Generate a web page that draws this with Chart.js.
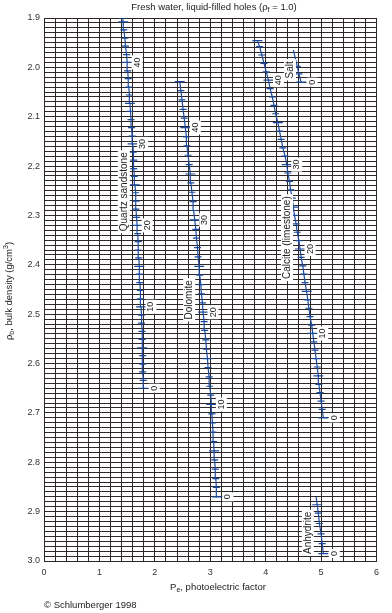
<!DOCTYPE html>
<html>
<head>
<meta charset="utf-8">
<script src="https://cdn.jsdelivr.net/npm/chart.js@4.4.0/dist/chart.umd.min.js"></script>
<style>
  html, body { margin: 0; padding: 0; background: #fff; }
  #wrap { width: 392px; height: 613px; }
</style>
</head>
<body>
<div id="wrap"><canvas id="chart" width="392" height="613"></canvas></div>
<script>
// readings along each matrix line, one entry per porosity unit (0 p.u. first)
const quartzRho = [2.650, 2.634, 2.617, 2.601, 2.584, 2.568, 2.551, 2.535, 2.518, 2.502, 2.485, 2.469, 2.452, 2.436, 2.419, 2.403, 2.386, 2.370, 2.353, 2.337, 2.320, 2.304, 2.287, 2.271, 2.254, 2.238, 2.221, 2.205, 2.188, 2.172, 2.155, 2.139, 2.122, 2.106, 2.089, 2.073, 2.056, 2.040, 2.023, 2.007, 1.990, 1.974, 1.957, 1.941, 1.924, 1.908, 1.900];
const quartzPe = [1.79, 1.79, 1.78, 1.78, 1.78, 1.77, 1.77, 1.77, 1.76, 1.76, 1.75, 1.74, 1.74, 1.73, 1.72, 1.72, 1.71, 1.70, 1.70, 1.69, 1.68, 1.67, 1.66, 1.66, 1.65, 1.64, 1.63, 1.62, 1.62, 1.61, 1.60, 1.59, 1.58, 1.57, 1.56, 1.55, 1.54, 1.53, 1.52, 1.51, 1.50, 1.49, 1.47, 1.46, 1.44, 1.43, 1.42];

const dolomiteRho = [2.870, 2.851, 2.833, 2.814, 2.795, 2.777, 2.758, 2.739, 2.720, 2.702, 2.683, 2.664, 2.646, 2.627, 2.608, 2.590, 2.571, 2.552, 2.533, 2.515, 2.496, 2.477, 2.459, 2.440, 2.421, 2.403, 2.384, 2.365, 2.346, 2.328, 2.309, 2.290, 2.272, 2.253, 2.234, 2.216, 2.197, 2.178, 2.159, 2.141, 2.122, 2.103, 2.085, 2.066, 2.047, 2.029];
const dolomitePe = [3.12, 3.11, 3.10, 3.09, 3.08, 3.07, 3.06, 3.05, 3.04, 3.03, 3.02, 3.01, 2.99, 2.98, 2.96, 2.95, 2.93, 2.92, 2.90, 2.89, 2.87, 2.86, 2.84, 2.83, 2.81, 2.80, 2.78, 2.77, 2.75, 2.74, 2.72, 2.70, 2.69, 2.67, 2.65, 2.64, 2.62, 2.60, 2.58, 2.57, 2.55, 2.53, 2.51, 2.49, 2.47, 2.45];

const calciteRho = [2.710, 2.693, 2.676, 2.659, 2.642, 2.625, 2.607, 2.590, 2.573, 2.556, 2.539, 2.522, 2.505, 2.488, 2.471, 2.454, 2.436, 2.419, 2.402, 2.385, 2.368, 2.351, 2.334, 2.317, 2.300, 2.283, 2.265, 2.248, 2.231, 2.214, 2.197, 2.180, 2.163, 2.146, 2.129, 2.112, 2.094, 2.077, 2.060, 2.043, 2.026, 2.009, 1.992, 1.975, 1.958, 1.946];
const calcitePe = [5.04, 5.02, 5.00, 4.98, 4.96, 4.95, 4.93, 4.91, 4.89, 4.87, 4.85, 4.83, 4.80, 4.78, 4.76, 4.74, 4.71, 4.69, 4.67, 4.64, 4.62, 4.60, 4.57, 4.55, 4.52, 4.50, 4.48, 4.45, 4.43, 4.40, 4.38, 4.35, 4.31, 4.28, 4.25, 4.22, 4.18, 4.15, 4.12, 4.08, 4.05, 4.01, 3.97, 3.93, 3.89, 3.85];

const saltRho = [2.030, 2.013, 1.998, 1.965];
const saltPe = [4.64, 4.60, 4.57, 4.50];

const anhydriteRho = [2.985, 2.965, 2.945, 2.924, 2.903, 2.886, 2.870];
const anhydritePe = [5.04, 5.02, 5.00, 4.97, 4.95, 4.93, 4.91];

const curveNames = ['Quartz sandstone', 'Dolomite', 'Calcite (limestone)', 'Salt', 'Anhydrite'];
const porosityMarks = ['0', '10', '20', '30', '40'];

const BLUE = '#1b4a9c';
const GRID = '#2f2727';
const FONT = "'Liberation Sans', Arial, Helvetica, sans-serif";

function toPoints(pe, rho) {
  return rho.map((r, i) => ({ x: pe[i], y: r }));
}

function makeSet(name, pe, rho, lastIsEnd) {
  return {
    label: name,
    data: toPoints(pe, rho),
    showLine: true,
    borderColor: BLUE,
    borderWidth: 1.2,
    pointStyle: 'line',
    pointBorderColor: BLUE,
    pointBorderWidth: 1.2,
    pointRadius: ctx => {
      if (lastIsEnd && ctx.dataIndex === rho.length - 1) return 0;
      return ctx.dataIndex % 5 === 0 ? 5 : 3.5;
    },
    pointHoverRadius: 0
  };
}

// where the names sit (data units) and which points get a porosity number
const nameAnchors = [
  { pe: 1.44, rho: 2.252 },
  { pe: 2.62, rho: 2.471 },
  { pe: 4.385, rho: 2.345 },
  { pe: 4.44, rho: 2.005 },
  { pe: 4.76, rho: 2.943 }
];
const markedCurves = [5, 5, 5, 1, 1];

function boxedText(ctx, text, x, y, size) {
  ctx.save();
  ctx.translate(x, y);
  ctx.rotate(-Math.PI / 2);
  ctx.font = size + 'px ' + FONT;
  const w = ctx.measureText(text).width;
  ctx.fillStyle = '#fff';
  ctx.fillRect(-w / 2 - 2, -size / 2 - 1, w + 4, size + 2);
  ctx.fillStyle = '#222';
  ctx.textAlign = 'center';
  ctx.textBaseline = 'middle';
  ctx.fillText(text, 0, 0);
  ctx.restore();
}

// draws a run of [text, kind] pieces, kind: 'n' normal, 'sub', 'sup'
function richText(ctx, parts, x, y, size, align) {
  const small = Math.round(size * 0.7);
  let total = 0;
  parts.forEach(p => {
    ctx.font = (p[1] === 'n' ? size : small) + 'px ' + FONT;
    total += ctx.measureText(p[0]).width;
  });
  let cx = align === 'center' ? x - total / 2 : x;
  ctx.textAlign = 'left';
  ctx.textBaseline = 'middle';
  parts.forEach(p => {
    const s = p[1] === 'n' ? size : small;
    ctx.font = s + 'px ' + FONT;
    const dy = p[1] === 'sub' ? size * 0.3 : (p[1] === 'sup' ? -size * 0.35 : 0);
    ctx.fillText(p[0], cx, y + dy);
    cx += ctx.measureText(p[0]).width;
  });
}

const labelPlugin = {
  id: 'labels',
  afterDatasetsDraw(chart) {
    const ctx = chart.ctx;
    const xs = chart.scales.x, ys = chart.scales.y;
    chart.data.datasets.forEach((ds, d) => {
      for (let k = 0; k < markedCurves[d]; k++) {
        const pt = ds.data[k * 10];
        const px = xs.getPixelForValue(pt.x) + (k === 0 ? 11 : 10);
        const py = ys.getPixelForValue(pt.y);
        boxedText(ctx, porosityMarks[k], px, py, 9);
      }
      const a = nameAnchors[d];
      boxedText(ctx, curveNames[d], xs.getPixelForValue(a.pe), ys.getPixelForValue(a.rho), 10);
    });
  },
  afterDraw(chart) {
    const ctx = chart.ctx;
    ctx.save();
    ctx.fillStyle = '#222';
    richText(ctx, [['Fresh water, liquid-filled holes (\u03c1', 'n'], ['f', 'sub'], [' = 1.0)', 'n']], 214, 7, 9.5, 'center');
    richText(ctx, [['P', 'n'], ['e', 'sub'], [', photoelectric factor', 'n']], 218, 587, 9.5, 'center');
    richText(ctx, [['\u00a9 Schlumberger 1998', 'n']], 44, 605, 9.5, 'left');
    ctx.translate(9, 291);
    ctx.rotate(-Math.PI / 2);
    richText(ctx, [['\u03c1', 'n'], ['b', 'sub'], [', bulk density (g/cm', 'n'], ['3', 'sup'], [')', 'n']], 0, 0, 9.5, 'center');
    ctx.restore();
  }
};

Chart.defaults.font.family = FONT;
Chart.defaults.color = '#333';

new Chart(document.getElementById('chart'), {
  type: 'scatter',
  data: {
    datasets: [
      makeSet(curveNames[0], quartzPe, quartzRho, false),
      makeSet(curveNames[1], dolomitePe, dolomiteRho, false),
      makeSet(curveNames[2], calcitePe, calciteRho, false),
      makeSet(curveNames[3], saltPe, saltRho, true),
      makeSet(curveNames[4], anhydritePe, anhydriteRho, true)
    ]
  },
  options: {
    responsive: false,
    animation: false,
    devicePixelRatio: 1,
    layout: { padding: { top: 18, right: 15.5, left: 0, bottom: 0 } },
    plugins: { legend: { display: false }, tooltip: { enabled: false } },
    scales: {
      x: {
        type: 'linear',
        min: 0, max: 6,
        afterFit: s => { s.height = 52; },
        border: { display: true, color: GRID, width: 1 },
        grid: { color: GRID, lineWidth: 1, drawTicks: false },
        ticks: {
          stepSize: 0.2, autoSkip: false, maxRotation: 0, padding: 6,
          font: { size: 9 },
          callback: v => Math.abs(v - Math.round(v)) < 1e-6 ? String(Math.round(v)) : ''
        }
      },
      y: {
        type: 'linear',
        reverse: true,
        min: 1.9, max: 3.0,
        afterFit: s => { s.width = 44; },
        border: { display: true, color: GRID, width: 1 },
        grid: { color: GRID, lineWidth: 1, drawTicks: false },
        ticks: {
          stepSize: 0.01, autoSkip: false, padding: 4,
          font: { size: 9 },
          callback: v => {
            const t = Math.round(v * 100);
            return t % 10 === 0 ? (t / 100).toFixed(1) : '';
          }
        }
      }
    }
  },
  plugins: [labelPlugin]
});
</script>
</body>
</html>
